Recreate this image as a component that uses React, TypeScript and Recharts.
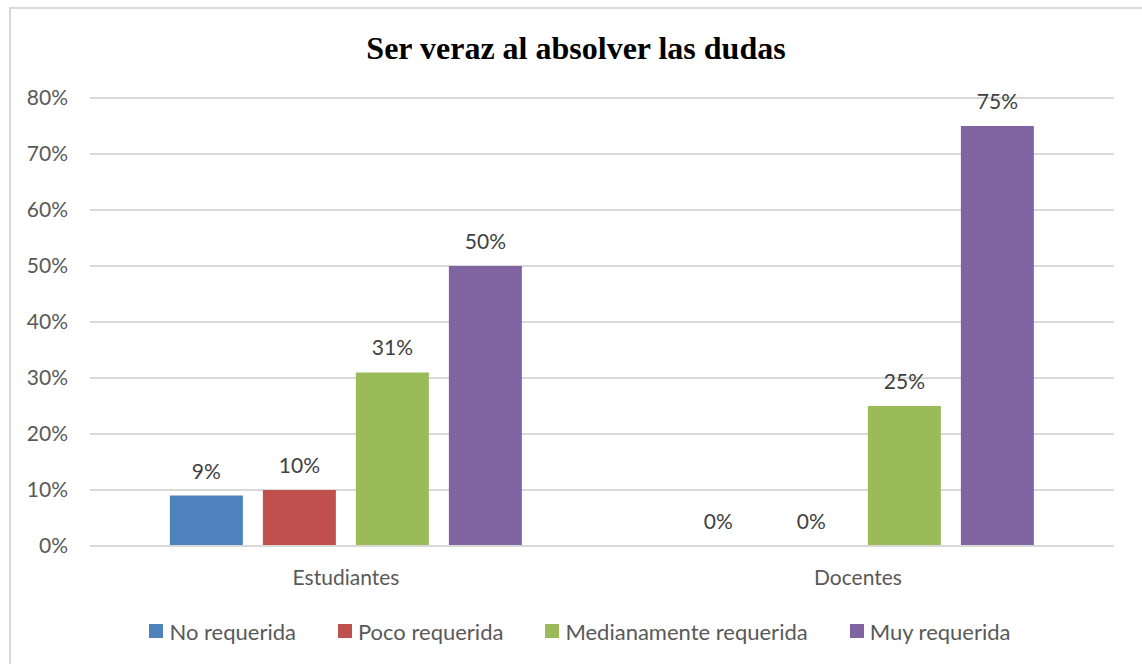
import { BarChart, Bar, XAxis, YAxis, CartesianGrid, Legend, LabelList } from 'recharts'

const categories = ['Estudiantes', 'Docentes']
const noRequerida = [9, 0]
const pocoRequerida = [10, 0]
const medianamente = [31, 25]
const muyRequerida = [50, 75]
const yTicks = [0, 10, 20, 30, 40, 50, 60, 70, 80]

const SERIES = [
  { key: 'No requerida', color: '#4f81bd', values: noRequerida },
  { key: 'Poco requerida', color: '#c0504d', values: pocoRequerida },
  { key: 'Medianamente requerida', color: '#9bbb59', values: medianamente },
  { key: 'Muy requerida', color: '#8064a2', values: muyRequerida },
]

const data = categories.map((name, i) => {
  const row: any = { name }
  SERIES.forEach((s) => (row[s.key] = s.values[i]))
  return row
})

const FONT = 'Lato, sans-serif'
const TEXT = '#595959'

function LegendContent({ payload }: any) {
  // keep the series order, not the alphabetical one
  const items = SERIES.map((s) => (payload || []).find((p: any) => p.value === s.key)).filter(Boolean)
  return (
    <div style={{ display: 'flex', justifyContent: 'center', alignItems: 'center', gap: 42, height: 30, fontFamily: FONT, fontSize: 22, color: TEXT, paddingLeft: 18 }}>
      {items.map((p: any) => (
        <div key={p.value} style={{ display: 'flex', alignItems: 'center', gap: 6 }}>
          <span style={{ width: 14, height: 14, background: p.color, display: 'inline-block' }}></span>
          <span>{p.value}</span>
        </div>
      ))}
    </div>
  )
}

export default function App() {
  return (
    <div style={{ position: 'absolute', left: 0, top: 0, width: 1142, height: 664, overflow: 'hidden', background: '#fff' }}>
      <div style={{ position: 'absolute', left: 9, top: 7, width: 1200, height: 700, border: '2px solid #d9d9d9', boxSizing: 'border-box' }}></div>
      <div style={{ position: 'absolute', left: 0, top: 28, width: 1152, textAlign: 'center', fontFamily: '"Liberation Serif", serif', fontWeight: 'bold', fontSize: 32, color: '#000', lineHeight: '40px' }}>
        Ser veraz al absolver las dudas
      </div>
      <BarChart
        width={1142}
        height={664}
        data={data}
        margin={{ top: 98, right: 28, bottom: 58, left: 0 }}
        barCategoryGap="15.6%"
        barGap={20}
        style={{ position: 'absolute', left: 0, top: 0 }}
      >
        <CartesianGrid vertical={false} stroke="#d9d9d9" strokeWidth={2} />
        <XAxis
          dataKey="name"
          axisLine={{ stroke: '#d9d9d9', strokeWidth: 2 }}
          tickLine={false}
          tickSize={0}
          tickMargin={24}
          tick={{ fontFamily: FONT, fontSize: 21, fill: TEXT }}
        />
        <YAxis
          domain={[0, 80]}
          ticks={yTicks}
          tickFormatter={(v) => `${v}%`}
          axisLine={false}
          tickLine={false}
          tickSize={0}
          tickMargin={22}
          width={90}
          tick={{ fontFamily: FONT, fontSize: 21, fill: TEXT }}
        />
        <Legend
          content={<LegendContent />}
          verticalAlign="bottom"
          wrapperStyle={{ top: 616, bottom: 'auto', left: 0, width: 1142 }}
        />
        {SERIES.map((s) => (
          <Bar key={s.key} dataKey={s.key} fill={s.color} minPointSize={0.01} isAnimationActive={false}>
            <LabelList
              dataKey={s.key}
              position="top"
              offset={17}
              formatter={(v: any) => `${v}%`}
              style={{ fontFamily: FONT, fontSize: 21, fill: '#404040' }}
            />
          </Bar>
        ))}
      </BarChart>
    </div>
  )
}
